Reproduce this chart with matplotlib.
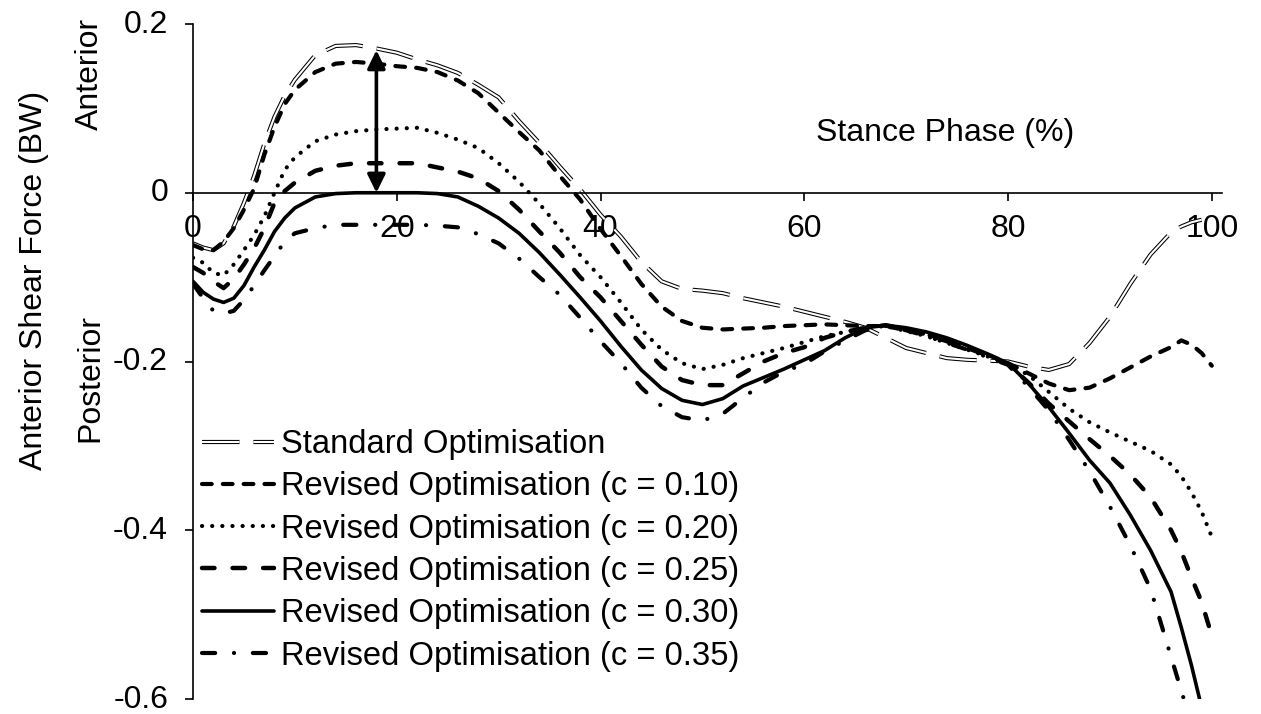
import numpy as np
import matplotlib
matplotlib.use('Agg')
from matplotlib import pyplot as plt
from matplotlib.ticker import FuncFormatter
from matplotlib.transforms import ScaledTranslation

plt.rcParams['font.family'] = ['Liberation Sans', 'DejaVu Sans']
plt.rcParams['lines.scale_dashes'] = False  # dash lengths in points

nan = np.nan

# % of stance phase
stance = [0, 1, 2, 3, 4, 5, 6, 7, 8, 9, 10,
          12, 14, 16, 18, 20, 22, 24, 26, 28, 30,
          32, 34, 36, 38, 40, 42, 44, 46, 48, 50,
          52, 54, 56, 58, 60, 62, 64, 66, 68, 70,
          72, 74, 76, 78, 80, 82, 84, 86, 88, 90,
          92, 94, 96, 97, 98, 99, 100]

# anterior shear force (BW)
standard = [-0.060, -0.065, -0.068, -0.060, -0.040, -0.012, 0.020, 0.058, 0.090, 0.115, 0.134,
            0.163, 0.174, 0.175, 0.171, 0.166, 0.158, 0.151, 0.142, 0.128, 0.113,
            0.085, 0.059, 0.031, 0.004, -0.026, -0.052, -0.082, -0.105, -0.114, -0.116,
            -0.119, -0.125, -0.130, -0.135, -0.141, -0.147, -0.153, -0.160, -0.172, -0.184,
            -0.190, -0.196, -0.198, -0.199, -0.200, -0.206, -0.210, -0.203, -0.178, -0.147,
            -0.108, -0.073, -0.047, -0.040, -0.035, -0.032, nan]
revised_010 = [-0.062, -0.067, -0.068, -0.058, -0.042, -0.020, 0.005, 0.045, 0.078, 0.105, 0.122,
               0.143, 0.153, 0.155, 0.153, 0.150, 0.148, 0.143, 0.133, 0.118, 0.095,
               0.072, 0.050, 0.020, -0.008, -0.043, -0.075, -0.108, -0.135, -0.152, -0.160,
               -0.162, -0.161, -0.160, -0.158, -0.157, -0.156, -0.157, -0.158, -0.158, -0.163,
               -0.168, -0.175, -0.183, -0.192, -0.202, -0.214, -0.226, -0.234, -0.231, -0.220,
               -0.207, -0.194, -0.183, -0.175, -0.180, -0.190, -0.205]
revised_020 = [-0.077, -0.083, -0.095, -0.098, -0.085, -0.068, -0.050, -0.028, 0.000, 0.027, 0.042,
               0.061, 0.069, 0.073, 0.075, 0.076, 0.077, 0.071, 0.063, 0.053, 0.035,
               0.013, -0.013, -0.042, -0.074, -0.100, -0.130, -0.162, -0.186, -0.202, -0.209,
               -0.204, -0.196, -0.190, -0.184, -0.177, -0.170, -0.165, -0.160, -0.158, -0.164,
               -0.170, -0.178, -0.186, -0.194, -0.203, -0.216, -0.236, -0.256, -0.272, -0.284,
               -0.295, -0.306, -0.322, -0.336, -0.355, -0.378, -0.408]
revised_025 = [-0.088, -0.095, -0.105, -0.113, -0.102, -0.085, -0.066, -0.042, -0.012, 0.002, 0.012,
               0.026, 0.032, 0.035, 0.035, 0.035, 0.035, 0.030, 0.025, 0.017, 0.002,
               -0.020, -0.046, -0.071, -0.100, -0.124, -0.152, -0.180, -0.206, -0.222, -0.228,
               -0.228, -0.214, -0.200, -0.190, -0.183, -0.172, -0.165, -0.160, -0.157, -0.162,
               -0.168, -0.176, -0.184, -0.193, -0.203, -0.225, -0.250, -0.271, -0.292, -0.312,
               -0.334, -0.361, -0.400, -0.425, -0.456, -0.485, -0.525]
revised_030 = [-0.105, -0.118, -0.126, -0.130, -0.125, -0.110, -0.088, -0.068, -0.046, -0.030, -0.018,
               -0.005, -0.001, 0.000, 0.000, 0.000, 0.000, -0.001, -0.005, -0.016, -0.030,
               -0.048, -0.071, -0.097, -0.124, -0.152, -0.182, -0.210, -0.232, -0.246, -0.251,
               -0.244, -0.229, -0.219, -0.209, -0.198, -0.187, -0.172, -0.160, -0.157, -0.160,
               -0.165, -0.172, -0.181, -0.191, -0.202, -0.226, -0.254, -0.285, -0.317, -0.344,
               -0.382, -0.424, -0.473, -0.515, -0.560, -0.610, nan]
revised_035 = [-0.108, -0.125, -0.140, -0.143, -0.140, -0.127, -0.110, -0.092, -0.075, -0.058, -0.048,
               -0.042, -0.038, -0.038, -0.038, -0.038, -0.038, -0.039, -0.041, -0.049, -0.060,
               -0.078, -0.100, -0.121, -0.148, -0.176, -0.202, -0.231, -0.253, -0.266, -0.270,
               -0.262, -0.243, -0.225, -0.212, -0.203, -0.188, -0.175, -0.163, -0.158, -0.163,
               -0.170, -0.178, -0.186, -0.195, -0.204, -0.230, -0.258, -0.293, -0.330, -0.372,
               -0.418, -0.470, -0.550, -0.590, -0.630, nan, nan]

labels = ['Standard Optimisation',
          'Revised Optimisation (c = 0.10)',
          'Revised Optimisation (c = 0.20)',
          'Revised Optimisation (c = 0.25)',
          'Revised Optimisation (c = 0.30)',
          'Revised Optimisation (c = 0.35)']

# double-headed arrow: peak reduction at ~18 % stance
arrow_x = 18
arrow_top = 0.169
arrow_bottom = 0.0

x_ticks = [0, 20, 40, 60, 80, 100]
y_ticks = [-0.6, -0.4, -0.2, 0, 0.2]

fs = 23

fig = plt.figure(figsize=(12.61, 7.14), dpi=100)
ax = fig.add_axes([193 / 1261, 15 / 714, 1029 / 1261, 675 / 714])

# standard: hollow double line (black under white)
s_out, = ax.plot(stance, standard, color='black', lw=3.0, dashes=(27, 10),
                 dash_capstyle='butt', solid_capstyle='butt')
s_in, = ax.plot(stance, standard, color='white', lw=1.5, dashes=(27, 10),
                dash_capstyle='butt', solid_capstyle='butt')

l10, = ax.plot(stance, revised_010, color='black', lw=3.0, dashes=(7, 8),
               dash_capstyle='round')
l20, = ax.plot(stance, revised_020, color='black', lw=3.0, dashes=(0.1, 7.2),
               dash_capstyle='round')
l25, = ax.plot(stance, revised_025, color='black', lw=3.2, dashes=(9, 13),
               dash_capstyle='round')
l30, = ax.plot(stance, revised_030, color='black', lw=2.6, solid_capstyle='round')
l35, = ax.plot(stance, revised_035, color='black', lw=3.0,
               dashes=(9.5, 13.5, 0.1, 13.5), dash_capstyle='round')

ax.annotate('', xy=(arrow_x, arrow_bottom), xytext=(arrow_x, arrow_top),
            arrowprops=dict(arrowstyle='<|-|>,head_length=0.55,head_width=0.27',
                            mutation_scale=20, lw=2.6, color='black',
                            shrinkA=0, shrinkB=0))

ax.set_xlim(0, 101)
ax.set_ylim(-0.6, 0.2)

for side in ['top', 'right']:
    ax.spines[side].set_visible(False)
ax.spines['bottom'].set_position(('data', 0))
ax.spines['left'].set_linewidth(1.2)
ax.spines['bottom'].set_linewidth(1.2)

ax.set_xticks(x_ticks)
ax.set_yticks(y_ticks)
ax.yaxis.set_major_formatter(FuncFormatter(lambda v, _: '0' if abs(v) < 1e-9 else f'{v:.1f}'))
ax.tick_params(axis='x', direction='out', length=6, width=1.2, pad=9.5, labelsize=fs)
ax.tick_params(axis='y', direction='out', length=6, width=1.2, pad=12, labelsize=fs)

# nudge y tick labels up a touch so the bottom one stays inside the figure
for lbl in ax.get_yticklabels():
    lbl.set_transform(lbl.get_transform() + ScaledTranslation(0, 2 / 72, fig.dpi_scale_trans))

ax.text(73.8, 0.071, 'Stance Phase (%)', ha='center', va='center', fontsize=fs)

fig.text(34 / 1261, 1 - 280 / 714, 'Anterior Shear Force (BW)', rotation=90,
         ha='center', va='center', fontsize=fs)
fig.text(90 / 1261, 1 - 74 / 714, 'Anterior', rotation=90,
         ha='center', va='center', fontsize=fs)
fig.text(90 / 1261, 1 - 378 / 714, 'Posterior', rotation=90,
         ha='center', va='center', fontsize=fs)

ax.legend([(s_out, s_in), l10, l20, l25, l30, l35], labels,
          loc='upper left', bbox_to_anchor=(0.009, 0.40), frameon=False,
          fontsize=23.6, handlelength=2.2, handletextpad=0.2,
          labelspacing=0.345, borderpad=0, borderaxespad=0)

fig.savefig('out.png', dpi=100)
